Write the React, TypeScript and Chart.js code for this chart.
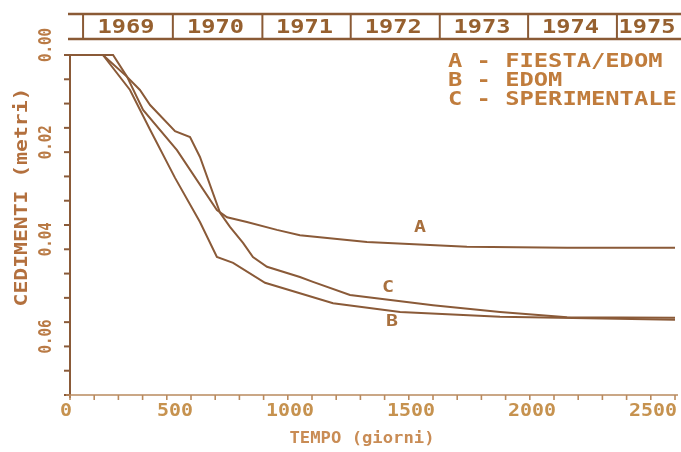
import React, { useEffect, useRef } from "react";
import { Chart, registerables } from "chart.js";
Chart.register(...registerables);

// ---- data (days, settlement in metres) ----
const daysA = [0, 136, 236, 302, 442, 607, 649, 731, 855, 950, 1227, 1640, 2054, 2500];
const valA = [0, 0, 0.0045, 0.0113, 0.0196, 0.0319, 0.0334, 0.0344, 0.036, 0.0371, 0.0385, 0.0395, 0.0397, 0.0397];
const daysB = [0, 136, 248, 331, 434, 537, 607, 674, 806, 1087, 1364, 1777, 2500];
const valB = [0, 0, 0.0072, 0.0154, 0.0253, 0.0344, 0.0416, 0.0428, 0.0469, 0.0511, 0.0529, 0.0539, 0.0545];
const daysC = [0, 178, 236, 289, 331, 434, 496, 537, 620, 661, 715, 756, 814, 950, 1004, 1157, 1500, 1777, 2054, 2500];
const valC = [0, 0, 0.0045, 0.0072, 0.0103, 0.0157, 0.0169, 0.021, 0.0325, 0.0354, 0.0387, 0.0416, 0.0436, 0.0457, 0.0467, 0.0494, 0.0515, 0.0529, 0.054, 0.0541];

const yearLabels = ["1969", "1970", "1971", "1972", "1973", "1974", "1975"];
const yearStartDays = [54, 425, 795, 1160, 1528, 1893, 2260];
const yearEndLastDay = 2625;

const xLabelValues = [0, 500, 1000, 1500, 2000, 2500];
const xLabelTexts = ["0", "500", "1000", "1500", "2000", "2500"];
const yLabelValues = [0, 0.02, 0.04, 0.06];
const yLabelTexts = ["0.00", "0.02", "0.04", "0.06"];

const legendLines = ["A - FIESTA/EDOM", "B - EDOM", "C - SPERIMENTALE"];
const curveLabels = ["A", "B", "C"];
const curveLabelDays = [1446, 1331, 1314];
const curveLabelVals = [0.0356, 0.055, 0.048];

const X_MAX = 2500;
const Y_MAX = 0.07;
const X_TICK = 100;
const Y_TICK = 0.005;

const LINE = "#8a5a38";
const FONT = "'DejaVu Sans Mono', monospace";

function drawText(
  ctx: CanvasRenderingContext2D,
  s: string,
  x: number,
  y: number,
  size: number,
  color: string,
  align: CanvasTextAlign,
  width?: number,
  rot = 0
) {
  ctx.save();
  ctx.font = `bold ${size}px ${FONT}`;
  ctx.fillStyle = color;
  ctx.textAlign = align;
  ctx.textBaseline = "middle";
  const m = ctx.measureText(s).width;
  const sx = width ? width / m : 1;
  ctx.translate(x, y);
  ctx.rotate(rot);
  ctx.scale(sx, 1);
  ctx.fillText(s, 0, 0);
  ctx.restore();
}

const decorPlugin = {
  id: "decor",
  afterDraw(chart: any) {
    const ctx: CanvasRenderingContext2D = chart.ctx;
    const xs = chart.scales.x;
    const ys = chart.scales.y;
    const ca = chart.chartArea;
    ctx.save();
    // y axis
    ctx.strokeStyle = LINE;
    ctx.lineWidth = 2;
    ctx.beginPath();
    ctx.moveTo(ca.left, ca.top);
    ctx.lineTo(ca.left, ca.bottom + 3);
    ctx.stroke();
    for (let i = 0; i * Y_TICK <= Y_MAX + 1e-9; i++) {
      const py = ys.getPixelForValue(i * Y_TICK);
      ctx.beginPath();
      ctx.moveTo(ca.left - 6, py);
      ctx.lineTo(ca.left, py);
      ctx.stroke();
    }
    // x axis
    ctx.strokeStyle = "#b98a5e";
    ctx.lineWidth = 1.6;
    ctx.beginPath();
    ctx.moveTo(ca.left - 4, ca.bottom);
    ctx.lineTo(ca.right + 3, ca.bottom);
    ctx.stroke();
    for (let i = 0; i * X_TICK <= X_MAX + 1e-9; i++) {
      const px = xs.getPixelForValue(i * X_TICK);
      ctx.beginPath();
      ctx.moveTo(px, ca.bottom);
      ctx.lineTo(px, ca.bottom + 5);
      ctx.stroke();
    }
    // tick labels
    xLabelValues.forEach((v, i) => {
      const px = xs.getPixelForValue(v);
      const w = xLabelTexts[i].length * 12;
      drawText(ctx, xLabelTexts[i], px + 2, 412, 17, "#c6924f", "right", w);
    });
    yLabelValues.forEach((v, i) => {
      const py = ys.getPixelForValue(v);
      drawText(ctx, yLabelTexts[i], 47, py + 7, 17, "#b97a45", "left", 34, -Math.PI / 2);
    });
    // axis titles
    drawText(ctx, "CEDIMENTI (metri)", 22, 197, 18, "#b3703e", "center", 219, -Math.PI / 2);
    drawText(ctx, "TEMPO (giorni)", 362, 439, 16, "#c98c55", "center", 145);

    // year band
    ctx.strokeStyle = "#8a5a35";
    ctx.lineWidth = 2.5;
    ctx.beginPath();
    ctx.moveTo(68, 14);
    ctx.lineTo(chart.width, 14);
    ctx.moveTo(68, 39);
    ctx.lineTo(chart.width, 39);
    ctx.stroke();
    yearStartDays.forEach((d, i) => {
      const px = xs.getPixelForValue(d);
      ctx.lineWidth = 2;
      ctx.beginPath();
      ctx.moveTo(px, 14);
      ctx.lineTo(px, 39);
      ctx.stroke();
      const endDay = i + 1 < yearStartDays.length ? yearStartDays[i + 1] : yearEndLastDay;
      const endPx = Math.min(xs.getPixelForValue(endDay), chart.width);
      drawText(ctx, yearLabels[i], (px + endPx) / 2 - 2, 28, 19, "#96602f", "center", 57);
    });

    // legend
    legendLines.forEach((s, i) => {
      drawText(ctx, s, 448, 62 + i * 19, 20, "#c07c3c", "left", s.length * 14.3);
    });

    // curve labels
    curveLabels.forEach((s, i) => {
      drawText(ctx, s, xs.getPixelForValue(curveLabelDays[i]), ys.getPixelForValue(curveLabelVals[i]), 16, "#a8703e", "center", 12);
    });
    ctx.restore();
  },
};

function pts(d: number[], v: number[]) {
  return d.map((x, i) => ({ x, y: v[i] }));
}

export default function App() {
  const ref = useRef<HTMLCanvasElement | null>(null);
  useEffect(() => {
    document.body.style.margin = "0";
    const canvas = ref.current!;
    const ds = (label: string, d: number[], v: number[]) => ({
      label,
      data: pts(d, v),
      borderColor: LINE,
      borderWidth: 2,
      pointRadius: 0,
      tension: 0,
      fill: false,
      clip: false as any,
    });
    const chart = new Chart(canvas, {
      type: "line",
      data: {
        datasets: [ds("A", daysA, valA), ds("B", daysB, valB), ds("C", daysC, valC)],
      },
      options: {
        animation: false,
        responsive: false,
        devicePixelRatio: 1,
        layout: { padding: { left: 70, right: 6, top: 55, bottom: 57 } },
        plugins: { legend: { display: false }, tooltip: { enabled: false } },
        scales: {
          x: { type: "linear", min: 0, max: X_MAX, display: false },
          y: { type: "linear", min: 0, max: Y_MAX, reverse: true, display: false },
        },
      },
      plugins: [decorPlugin],
    });
    return () => chart.destroy();
  }, []);
  return (
    <div style={{ width: 681, height: 452 }}>
      <canvas ref={ref} width={681} height={452} style={{ display: "block" }} />
    </div>
  );
}
